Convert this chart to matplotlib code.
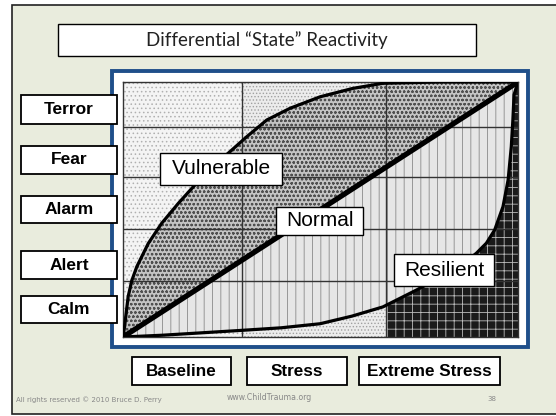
import matplotlib
matplotlib.use("Agg")
import numpy as np
from matplotlib import pyplot as plt
from matplotlib.patches import Rectangle

W, H = 556, 416

title = "Differential \u201cState\u201d Reactivity"
states = ["Terror", "Fear", "Alarm", "Alert", "Calm"]
conditions = ["Baseline", "Stress", "Extreme Stress"]

# zone boundaries on the normalised axes
col_edges = [0.301, 0.666]
row_edges = [0.22, 0.424, 0.627, 0.824]

# curves (x = stress, y = arousal state)
vuln_x = [0.0, 0.004, 0.008, 0.013, 0.022, 0.035, 0.064, 0.098, 0.140, 0.182, 0.225,
          0.271, 0.313, 0.364, 0.423, 0.499, 0.582, 0.658, 0.800, 1.0]
vuln_y = [0.0, 0.040, 0.094, 0.158, 0.220, 0.276, 0.367, 0.446, 0.524, 0.596, 0.665,
          0.727, 0.785, 0.851, 0.897, 0.942, 0.975, 0.995, 1.0, 1.0]
norm_x = [0.0, 1.0]
norm_y = [0.0, 1.0]
res_x = [0.0, 0.100, 0.195, 0.300, 0.400, 0.499, 0.580, 0.658, 0.744, 0.828, 0.870,
         0.895, 0.920, 0.941, 0.962, 0.975, 0.983, 0.987, 0.990, 1.0]
res_y = [0.0, 0.007, 0.016, 0.026, 0.036, 0.052, 0.082, 0.118, 0.185, 0.255, 0.297,
         0.329, 0.368, 0.420, 0.511, 0.616, 0.746, 0.850, 0.950, 1.0]

plt.rcParams["hatch.linewidth"] = 0.6

fig = plt.figure(figsize=(W / 100, H / 100), dpi=100)
fig.patch.set_facecolor("white")


def box(x0, y0, x1, y1, fc="white", ec="black", lw=1.0, z=1):
    r = Rectangle((x0 / W, 1 - y1 / H), (x1 - x0) / W, (y1 - y0) / H,
                  transform=fig.transFigure, facecolor=fc, edgecolor=ec, lw=lw, zorder=z)
    fig.add_artist(r)


def label(x0, y0, x1, y1, s, lw=1.2, z=1, **kw):
    box(x0, y0, x1, y1, lw=lw, z=z)
    fig.text((x0 + x1) / 2 / W, 1 - (y0 + y1) / 2 / H, s, ha="center", va="center",
             zorder=z + 1, **kw)


# slide background and frames
box(12, 5, 600, 414, fc="#E9ECDD", ec="#222222", lw=1.2, z=0)
label(58, 24, 476, 56, title, lw=1.0, fontsize=13.5, family="Lato", color="#222222")
box(112, 71, 528, 347, fc="white", ec="#1F4F8A", lw=2.8, z=1)

ax = fig.add_axes([123 / W, 1 - 337 / H, 395 / W, 255 / H], zorder=2)
ax.set_xlim(0, 1)
ax.set_ylim(0, 1)
ax.set_xticks([])
ax.set_yticks([])
for s in ax.spines.values():
    s.set_color("#333333")
    s.set_linewidth(1.0)

# background textures per column
ax.axvspan(0, col_edges[0], facecolor="#f4f4f4", edgecolor="#b0b0b0", hatch="....", lw=0, zorder=0)
ax.axvspan(col_edges[0], 1, facecolor="#ececec", edgecolor="#a0a0a0", hatch=".....", lw=0, zorder=0)

# vulnerable region (between vulnerable curve and diagonal)
ax.fill(vuln_x, vuln_y, facecolor="#c4c4c4", edgecolor="#505050", hatch="oooo", lw=0, zorder=1)
# normal region (between diagonal and resilient curve)
ax.fill(res_x, res_y, facecolor="#e6e6e6", edgecolor="#8a8a8a", hatch="||", lw=0, zorder=1)
# extreme stress below the resilient curve
dark = ax.fill(res_x + [1.0, 0.0], res_y + [0.0, 0.0], facecolor="#1a1a1a",
               edgecolor="#bbbbbb", hatch="++", lw=0, zorder=1)[0]
clip = Rectangle((col_edges[1], 0), 1 - col_edges[1], 1, transform=ax.transData)
dark.set_clip_path(clip)

for x in col_edges:
    ax.axvline(x, color="#333333", lw=1.0, zorder=3)
for y in row_edges:
    ax.axhline(y, color="#333333", lw=1.0, zorder=3)

ax.plot(vuln_x, vuln_y, color="black", lw=2.3, zorder=4, solid_capstyle="round",
        solid_joinstyle="round")
ax.plot(res_x, res_y, color="black", lw=2.3, zorder=4, solid_capstyle="round",
        solid_joinstyle="round")
ax.plot(norm_x, norm_y, color="black", lw=3.8, zorder=5, solid_capstyle="round")

# curve names
label(160, 153, 282, 185, "Vulnerable", lw=1.0, z=5, fontsize=15, family="Liberation Sans")
label(276, 207, 363, 235, "Normal", lw=1.0, z=5, fontsize=15, family="Liberation Sans")
label(394, 254, 494, 286, "Resilient", lw=1.0, z=5, fontsize=15, family="Liberation Sans")

# state labels on the left
state_y = [(95, 124), (146, 174), (196, 223), (251, 279), (296, 323)]
for s, (y0, y1) in zip(states, state_y):
    label(21, y0, 117, y1, s, lw=1.3, fontsize=12.5, fontweight="bold", family="Liberation Sans")

# condition labels at the bottom
cond_x = [(132, 231), (247, 347), (359, 500)]
for s, (x0, x1) in zip(conditions, cond_x):
    label(x0, 357, x1, 385, s, lw=1.3, fontsize=12.3, fontweight="bold", family="Liberation Sans")

fig.text(16 / W, 1 - 400 / H, "All rights reserved \u00a9 2010 Bruce D. Perry", fontsize=5,
         color="#888888", va="center")
fig.text(227 / W, 1 - 397 / H, "www.ChildTrauma.org", fontsize=5.6, color="#888888", va="center")
fig.text(487 / W, 1 - 399 / H, "38", fontsize=5, color="#888888", va="center")

fig.savefig("out.png", dpi=100)
